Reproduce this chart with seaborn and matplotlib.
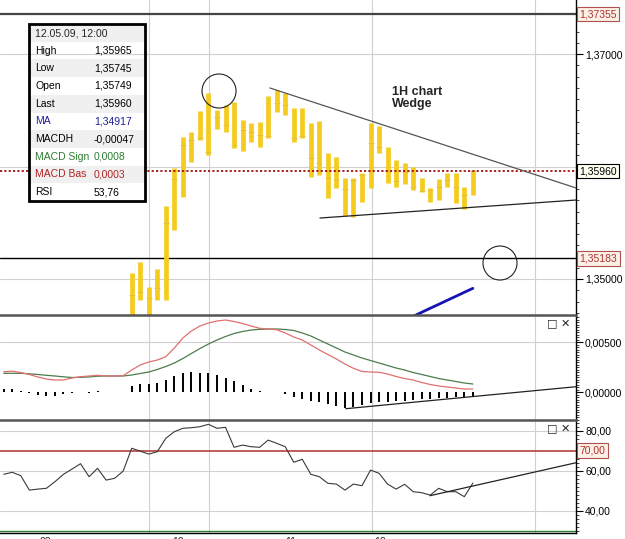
import numpy as np
import seaborn as sns
import matplotlib.pyplot as plt
import matplotlib.ticker as ticker
from matplotlib.patches import Rectangle

# --- price bars (1H, index 0 = first visible bar) ---
bar_idx = list(range(41))
bar_high = [1.35053, 1.35151, 1.34929, 1.35089, 1.35649, 1.35987, 1.36262, 1.36307, 1.36493, 1.36653,
            1.36502, 1.36547, 1.36573, 1.36413, 1.36387, 1.36396, 1.36627, 1.36680, 1.36653, 1.36520,
            1.36520, 1.36387, 1.36404, 1.36120, 1.36084, 1.35898, 1.35898, 1.35942, 1.36387, 1.36360,
            1.36173, 1.36058, 1.36031, 1.35996, 1.35898, 1.35809, 1.35889, 1.35942, 1.35942, 1.35818,
            1.35965]
bar_low = [1.34618, 1.34813, 1.34636, 1.34813, 1.34813, 1.35436, 1.35729, 1.36040, 1.36236, 1.36102,
           1.36333, 1.36307, 1.36164, 1.36138, 1.36218, 1.36173, 1.36253, 1.36484, 1.36458, 1.36218,
           1.36253, 1.35907, 1.35924, 1.35720, 1.35809, 1.35560, 1.35551, 1.35684, 1.35809, 1.36120,
           1.35853, 1.35818, 1.35844, 1.35791, 1.35773, 1.35684, 1.35702, 1.35818, 1.35676, 1.35622,
           1.35745]
bar_close = [1.34858, 1.34884, 1.34831, 1.34920, 1.35498, 1.35889, 1.36191, 1.36236, 1.36253, 1.36129,
             1.36440, 1.36369, 1.36191, 1.36324, 1.36307, 1.36280, 1.36271, 1.36564, 1.36547, 1.36253,
             1.36271, 1.36076, 1.36031, 1.35898, 1.35880, 1.35800, 1.35880, 1.35924, 1.36209, 1.36173,
             1.35960, 1.35871, 1.35951, 1.35818, 1.35782, 1.35791, 1.35818, 1.35880, 1.35818, 1.35747,
             1.35960]

ma_idx = [33, 34, 35, 36, 37, 38, 39, 40]
ma_vals = [1.34668, 1.34704, 1.34740, 1.34775, 1.34811, 1.34846, 1.34882, 1.34917]

# --- indicators (start before the first visible bar) ---
ind_idx = list(range(-15, 41))
macd_base = [0.00203, 0.00208, 0.00195, 0.00175, 0.00150, 0.00130, 0.00120, 0.00120, 0.00140, 0.00153,
             0.00160, 0.00167, 0.00160, 0.00160, 0.00163, 0.00220, 0.00270, 0.00300, 0.00320, 0.00353,
             0.00440, 0.00540, 0.00610, 0.00660, 0.00690, 0.00710, 0.00720, 0.00705, 0.00685, 0.00660,
             0.00637, 0.00630, 0.00623, 0.00590, 0.00550, 0.00520, 0.00470, 0.00420, 0.00375, 0.00330,
             0.00280, 0.00237, 0.00205, 0.00200, 0.00197, 0.00180, 0.00155, 0.00135, 0.00120, 0.00095,
             0.00075, 0.00060, 0.00050, 0.00040, 0.00030, 0.00030]
macd_signal = [0.00187, 0.00187, 0.00187, 0.00182, 0.00175, 0.00167, 0.00160, 0.00152, 0.00145, 0.00147,
               0.00150, 0.00158, 0.00160, 0.00160, 0.00160, 0.00170, 0.00185, 0.00200, 0.00225, 0.00255,
               0.00290, 0.00335, 0.00385, 0.00435, 0.00480, 0.00520, 0.00555, 0.00585, 0.00605, 0.00620,
               0.00627, 0.00630, 0.00630, 0.00625, 0.00615, 0.00590, 0.00560, 0.00520, 0.00480, 0.00440,
               0.00400, 0.00370, 0.00340, 0.00315, 0.00290, 0.00265, 0.00240, 0.00220, 0.00195, 0.00175,
               0.00155, 0.00135, 0.00120, 0.00105, 0.00090, 0.00080]
macd_hist = [0.00027, 0.00030, 0.00010, -0.00005, -0.00030, -0.00040, -0.00040, -0.00017, -0.00010, -0.00003,
             -0.00005, 0.00013, 0.00005, 0.00000, 0.00003, 0.00060, 0.00080, 0.00080, 0.00090, 0.00120,
             0.00160, 0.00190, 0.00200, 0.00190, 0.00190, 0.00170, 0.00140, 0.00110, 0.00070, 0.00030,
             0.00007, 0.00003, 0.00000, -0.00023, -0.00050, -0.00070, -0.00090, -0.00100, -0.00120, -0.00140,
             -0.00160, -0.00150, -0.00130, -0.00110, -0.00100, -0.00097, -0.00090, -0.00090, -0.00080, -0.00070,
             -0.00070, -0.00060, -0.00060, -0.00050, -0.00050, -0.00047]
rsi = [58.2, 59.2, 57.5, 50.3, 50.8, 51.2, 54.5, 58.2, 60.8, 63.5,
       57.0, 61.2, 55.3, 56.2, 59.8, 71.2, 69.8, 68.3, 69.5, 76.2,
       79.5, 81.2, 81.5, 82.0, 83.2, 81.2, 81.7, 71.7, 72.8, 72.0,
       71.7, 75.3, 73.7, 72.0, 64.2, 65.7, 58.2, 57.0, 53.7, 53.3,
       50.3, 53.3, 52.5, 60.3, 58.7, 53.3, 50.8, 53.2, 49.5, 49.0,
       47.8, 51.2, 49.5, 49.5, 47.0, 53.8]

# --- drawn objects ---
wedge_top_x, wedge_top_y = [16.2, 52.1], [1.36698, 1.35809]
wedge_low_x, wedge_low_y = [22.07, 52.1], [1.35542, 1.35702]
macd_trend_x, macd_trend_y = [25.1, 52.1], [-0.00167, 0.00053]
rsi_trend_x, rsi_trend_y = [34.97, 52.1], [47.5, 64.0]
circle_x, circle_y = [10.24, 43.18], [1.36671, 1.35142]
level_high, level_low, level_last = 1.37355, 1.35183, 1.35960
rsi_upper, rsi_lower = 70, 30
grid_x = [2.03, 9.06, 28.17, 47.28]
day_x = [-10.1, 5.4, 18.6, 29.1]
day_labels = ['08', '10', '11', '12']

info_labels = ['High', 'Low', 'Open', 'Last', 'MA', 'MACDH', 'MACD Sign', 'MACD Bas', 'RSI']
info_values = ['1,35965', '1,35745', '1,35749', '1,35960', '1,34917', '-0,00047', '0,0008', '0,0003', '53,76']
info_colors = ['black', 'black', 'black', 'black', '#1c1c9c', 'black', '#2e7d32', '#b22222', 'black']

sns.set_style('white')
plt.rcParams['font.family'] = ['Liberation Sans', 'DejaVu Sans']

W, H = 625, 539
fig = plt.figure(figsize=(6.25, 5.39), dpi=100)


def px_axes(x0, y0, x1, y1):
    return fig.add_axes([x0 / W, 1 - y1 / H, (x1 - x0) / W, (y1 - y0) / H])


ax_p = px_axes(0, 0, 576, 315)
ax_m = px_axes(0, 315, 576, 420)
ax_r = px_axes(0, 420, 576, 533)
XL = (-15.44, 52.09)
comma = lambda d: ticker.FuncFormatter(lambda v, p: f"{v:.{d}f}".replace('.', ','))

for ax in (ax_p, ax_m, ax_r):
    ax.set_xlim(*XL)
    ax.yaxis.tick_right()
    ax.set_xticks(grid_x)
    ax.set_xticklabels([])
    ax.grid(True, axis='both', color='#d0d0d0', lw=0.8)
    ax.set_axisbelow(True)
    ax.spines['left'].set_visible(False)
    ax.spines['right'].set_color('black')
    ax.spines['right'].set_linewidth(1)
    ax.spines['top'].set_color('#555555')
    ax.spines['top'].set_linewidth(1.8)
    ax.spines['bottom'].set_visible(False)
    ax.tick_params(axis='x', length=0)
    ax.tick_params(axis='y', which='major', direction='out', length=5, width=0.8,
                   labelsize=7.5, pad=1.5, colors='black')
    ax.tick_params(axis='y', which='minor', direction='out', length=2, width=0.6, right=True)
ax_p.spines['top'].set_visible(False)

# --- price panel ---
ax_p.set_ylim(1.34680, 1.37480)
ax_p.set_yticks([1.35, 1.36, 1.37])
ax_p.yaxis.set_major_formatter(ticker.FuncFormatter(
    lambda v, p: '' if abs(v - 1.36) < 1e-6 else f"{v:.5f}".replace('.', ',')))
ax_p.yaxis.set_minor_locator(ticker.MultipleLocator(0.001))

ax_p.axhline(level_high, color='#444444', lw=1.6, zorder=1)
ax_p.axhline(level_low, color='black', lw=1.0, zorder=1)
ax_p.axhline(level_last, color='#a01010', lw=1.3, ls=(0, (1.2, 1.2)), zorder=4)

ax_p.vlines(bar_idx, bar_low, bar_high, color='#F5CB1D', lw=3.4, zorder=3)
bx = np.array(bar_idx)
ax_p.hlines(bar_close, bx - 0.35, bx + 0.35, color='#dcc04a', lw=0.6, zorder=3)

sns.lineplot(x=ma_idx, y=ma_vals, ax=ax_p, color='#1414b4', lw=2.0, zorder=4)
ax_p.plot(wedge_top_x, wedge_top_y, color='#555555', lw=0.9, zorder=5)
ax_p.plot(wedge_low_x, wedge_low_y, color='#222222', lw=0.9, zorder=5)
ax_p.scatter(circle_x, circle_y, s=600, facecolors='none', edgecolors='#222222',
             linewidths=0.8, zorder=5)
ax_p.text(30.5, 1.36716, '1H chart\nWedge', fontsize=9, fontweight='bold',
          ha='left', va='top', linespacing=1.05)

for val, tc, fc, ec in [(level_high, '#b03030', '#fbf1e6', '#b05050'),
                        (level_last, 'black', '#fffff2', 'black'),
                        (level_low, '#b03030', '#fbf1e6', '#b05050')]:
    ax_p.annotate(f"{val:.5f}".replace('.', ','), xy=(1, val), xycoords=ax_p.get_yaxis_transform(),
                  xytext=(2.5, 0), textcoords='offset points', ha='left', va='center',
                  fontsize=7.5, color=tc, annotation_clip=False, zorder=10,
                  bbox=dict(boxstyle='square,pad=0.22', fc=fc, ec=ec, lw=0.8))

# --- MACD panel ---
ax_m.set_ylim(-0.0028, 0.0077)
ax_m.set_yticks([0.0, 0.005])
ax_m.yaxis.set_major_formatter(comma(5))
ax_m.yaxis.set_minor_locator(ticker.MultipleLocator(0.00025))
ax_m.grid(False, axis='y')
ax_m.axhline(0.005, color='#d0d0d0', lw=0.8, zorder=0)
ax_m.vlines(ind_idx, 0, macd_hist, color='black', lw=1.4, zorder=3)
sns.lineplot(x=ind_idx, y=macd_signal, ax=ax_m, color='#4c7c4c', lw=0.9, zorder=4)
sns.lineplot(x=ind_idx, y=macd_base, ax=ax_m, color='#e07070', lw=0.9, zorder=4)
ax_m.plot(macd_trend_x, macd_trend_y, color='#222222', lw=0.9, zorder=5)
ax_m.set_ylabel('')

# --- RSI panel ---
ax_r.set_ylim(28.85, 85.35)
ax_r.set_yticks([40, 60, 80])
ax_r.yaxis.set_major_formatter(comma(2))
ax_r.yaxis.set_minor_locator(ticker.MultipleLocator(2))
ax_r.axhline(rsi_upper, color='#b84040', lw=1.2, zorder=2)
ax_r.axhline(rsi_lower, color='#2e7d32', lw=1.0, zorder=2)
sns.lineplot(x=ind_idx, y=rsi, ax=ax_r, color='#3a3a3a', lw=0.8, zorder=4)
ax_r.plot(rsi_trend_x, rsi_trend_y, color='#222222', lw=0.9, zorder=5)
ax_r.set_ylabel('')
ax_r.annotate('70,00', xy=(1, rsi_upper), xycoords=ax_r.get_yaxis_transform(),
              xytext=(2.5, 0), textcoords='offset points', ha='left', va='center',
              fontsize=7.5, color='#b03030', annotation_clip=False,
              bbox=dict(boxstyle='square,pad=0.22', fc='#fbf1e6', ec='#b05050', lw=0.8))
ax_r.spines['bottom'].set_visible(True)
ax_r.spines['bottom'].set_color('black')
ax_r.spines['bottom'].set_linewidth(1)
ax_r.tick_params(axis='x', which='major', direction='out', length=8, width=1, colors='black')
ax_r.set_xticks(day_x, minor=True)
ax_r.set_xticklabels(day_labels, minor=True)
ax_r.tick_params(axis='x', which='minor', length=0, pad=3, labelsize=7.5)

for ax in (ax_m, ax_r):
    ax.text(0.99, 0.97, '\u25a1 \u2715', transform=ax.transAxes, ha='right', va='top',
            fontsize=8, family=['DejaVu Sans'])

# --- info box ---
fx = lambda x: x / W
fy = lambda y: 1 - y / H
row_h = 17.7
for i in range(10):
    if i % 2 == 0:
        fig.patches.append(Rectangle((fx(30), fy(24 + (i + 1) * row_h)), fx(114), row_h / H,
                                     transform=fig.transFigure, fc='#f0f0f0', ec='none', zorder=1))
fig.patches.append(Rectangle((fx(29), fy(201)), fx(116), 177 / H, transform=fig.transFigure,
                             fc='none', ec='black', lw=2, zorder=2))
fig.text(fx(35), fy(33), '12.05.09, 12:00', fontsize=7.5, va='center', zorder=3)
for i, (lab, val, col) in enumerate(zip(info_labels, info_values, info_colors)):
    yy = fy(24 + (i + 1.5) * row_h)
    fig.text(fx(35), yy, lab, fontsize=7.5, va='center', color=col, zorder=3)
    fig.text(fx(94), yy, val, fontsize=7.5, va='center', color=col, zorder=3)

fig.savefig('out.png', dpi=100)
